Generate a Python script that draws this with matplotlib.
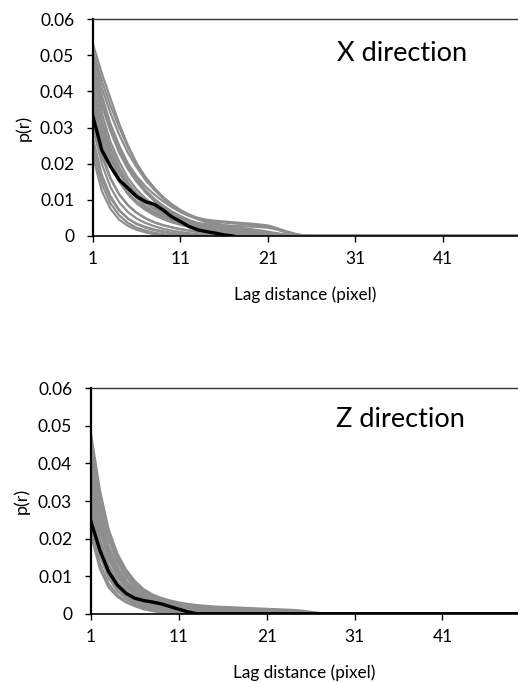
"""
p(r) vs lag distance, X and Z direction
"""
import numpy as np
import matplotlib
matplotlib.use("Agg")
import matplotlib.pyplot as plt

plt.rcParams['font.family'] = ['Lato', 'DejaVu Sans']

N_LAGS = 50
lags = np.arange(1, N_LAGS + 1)

# gray realisations, X direction (values from lag 1, zero afterwards)
x_real = [
    [0.053, 0.045, 0.038, 0.031, 0.025, 0.020, 0.016, 0.013, 0.0105, 0.0086, 0.0070, 0.0058, 0.0050, 0.0045, 0.0042, 0.0040, 0.0038, 0.0036, 0.0034, 0.0032, 0.0029, 0.0022, 0.0014, 0.0007, 0.0002, 0],
    [0.051, 0.043, 0.036, 0.030, 0.0245, 0.020, 0.0163, 0.0133, 0.0108, 0.0088, 0.0072, 0.0059, 0.0049, 0.0041, 0.0035, 0.0030, 0.0026, 0.0022, 0.0018, 0.0014, 0.0010, 0.0006, 0.0003, 0.0001, 0],
    [0.050, 0.041, 0.034, 0.028, 0.023, 0.019, 0.0155, 0.0128, 0.0105, 0.0086, 0.0070, 0.0057, 0.0046, 0.0037, 0.0030, 0.0025, 0.0021, 0.0018, 0.0015, 0.0012, 0.0009, 0.0006, 0.0003, 0.0001, 0],
    [0.048, 0.039, 0.031, 0.025, 0.020, 0.0165, 0.0137, 0.0115, 0.0096, 0.0080, 0.0066, 0.0055, 0.0047, 0.0042, 0.0039, 0.0037, 0.0035, 0.0033, 0.0031, 0.0029, 0.0026, 0.0019, 0.0011, 0.0005, 0.0001, 0],
    [0.047, 0.037, 0.0295, 0.0235, 0.0188, 0.0151, 0.0121, 0.0097, 0.0078, 0.0063, 0.0051, 0.0042, 0.0035, 0.0030, 0.0027, 0.0025, 0.0023, 0.0021, 0.0019, 0.0016, 0.0012, 0.0008, 0.0004, 0.0001, 0],
    [0.046, 0.036, 0.029, 0.023, 0.0185, 0.015, 0.0123, 0.0100, 0.0082, 0.0067, 0.0054, 0.0043, 0.0034, 0.0027, 0.0021, 0.0016, 0.0012, 0.0008, 0.0005, 0.0003, 0.0001, 0],
    [0.045, 0.037, 0.030, 0.024, 0.0195, 0.0157, 0.0127, 0.0103, 0.0084, 0.0068, 0.0055, 0.0044, 0.0036, 0.0030, 0.0025, 0.0021, 0.0018, 0.0015, 0.0012, 0.0009, 0.0006, 0.0003, 0.0001, 0],
    [0.044, 0.034, 0.026, 0.0205, 0.016, 0.0128, 0.0104, 0.0085, 0.0070, 0.0058, 0.0048, 0.0040, 0.0034, 0.0029, 0.0025, 0.0022, 0.0019, 0.0016, 0.0013, 0.0010, 0.0007, 0.0004, 0.0002, 0],
    [0.042, 0.031, 0.023, 0.0175, 0.0135, 0.0105, 0.0083, 0.0067, 0.0055, 0.0046, 0.0038, 0.0031, 0.0025, 0.0020, 0.0016, 0.0012, 0.0009, 0.0006, 0.0004, 0.0002, 0],
    [0.041, 0.032, 0.0245, 0.019, 0.0148, 0.0116, 0.0092, 0.0074, 0.0060, 0.0049, 0.0040, 0.0033, 0.0027, 0.0022, 0.0018, 0.0014, 0.0010, 0.0007, 0.0004, 0.0002, 0],
    [0.040, 0.030, 0.023, 0.018, 0.0145, 0.0118, 0.0097, 0.0080, 0.0066, 0.0055, 0.0045, 0.0037, 0.0030, 0.0024, 0.0019, 0.0015, 0.0011, 0.0008, 0.0005, 0.0003, 0.0001, 0],
    [0.039, 0.029, 0.0215, 0.016, 0.0122, 0.0094, 0.0074, 0.0059, 0.0048, 0.0039, 0.0032, 0.0026, 0.0021, 0.0017, 0.0013, 0.0010, 0.0007, 0.0004, 0.0002, 0],
    [0.038, 0.027, 0.020, 0.015, 0.0115, 0.0090, 0.0072, 0.0058, 0.0047, 0.0038, 0.0031, 0.0025, 0.0020, 0.0016, 0.0012, 0.0009, 0.0006, 0.0004, 0.0002, 0],
    [0.036, 0.026, 0.0195, 0.0150, 0.0118, 0.0095, 0.0078, 0.0065, 0.0054, 0.0045, 0.0037, 0.0031, 0.0026, 0.0022, 0.0019, 0.0017, 0.0015, 0.0013, 0.0011, 0.0008, 0.0005, 0.0003, 0.0001, 0],
    [0.035, 0.028, 0.022, 0.0175, 0.014, 0.0113, 0.0092, 0.0076, 0.0063, 0.0053, 0.0045, 0.0039, 0.0035, 0.0032, 0.0030, 0.0029, 0.0028, 0.0027, 0.0026, 0.0025, 0.0023, 0.0018, 0.0011, 0.0005, 0.0001, 0],
    [0.033, 0.023, 0.016, 0.0115, 0.0085, 0.0064, 0.0049, 0.0038, 0.0030, 0.0024, 0.0019, 0.0015, 0.0011, 0.0008, 0.0005, 0.0003, 0.0001, 0],
    [0.031, 0.022, 0.0158, 0.0115, 0.0085, 0.0064, 0.0049, 0.0038, 0.0030, 0.0024, 0.0019, 0.0015, 0.0012, 0.0009, 0.0006, 0.0004, 0.0002, 0],
    [0.030, 0.020, 0.0135, 0.0093, 0.0066, 0.0048, 0.0036, 0.0027, 0.0020, 0.0015, 0.0011, 0.0008, 0.0005, 0.0003, 0.0001, 0],
    [0.027, 0.017, 0.011, 0.0072, 0.0048, 0.0033, 0.0023, 0.0016, 0.0011, 0.0007, 0.0004, 0.0002, 0],
    [0.025, 0.016, 0.0105, 0.0070, 0.0048, 0.0034, 0.0025, 0.0018, 0.0013, 0.0009, 0.0006, 0.0004, 0.0002, 0],
    [0.024, 0.0145, 0.0090, 0.0057, 0.0036, 0.0023, 0.0015, 0.0009, 0.0005, 0.0002, 0],
    [0.022, 0.0125, 0.0075, 0.0045, 0.0028, 0.0017, 0.0010, 0.0005, 0.0002, 0],
]
# black curve, X direction
x_mean = [0.033, 0.0238, 0.0192, 0.0155, 0.0132, 0.0109, 0.0095, 0.0088, 0.0072, 0.0053,
          0.0040, 0.0026, 0.0017, 0.0012, 0.0008, 0.0003, 0]

# gray realisations, Z direction
z_real = [
    [0.048, 0.033, 0.0225, 0.016, 0.0117, 0.0087, 0.0065, 0.0051, 0.0042, 0.0035, 0.0030, 0.0026, 0.0023, 0.0021, 0.0019, 0.0018, 0.0017, 0.0016, 0.0015, 0.0014, 0.0013, 0.0012, 0.0011, 0.0010, 0.0008, 0.0005, 0.0002, 0],
    [0.046, 0.032, 0.0215, 0.0152, 0.0110, 0.0082, 0.0062, 0.0049, 0.0040, 0.0033, 0.0028, 0.0024, 0.0021, 0.0019, 0.0017, 0.0016, 0.0015, 0.0014, 0.0013, 0.0012, 0.0011, 0.0010, 0.0009, 0.0007, 0.0005, 0.0003, 0.0001, 0],
    [0.045, 0.031, 0.021, 0.0148, 0.0107, 0.0079, 0.0060, 0.0047, 0.0038, 0.0032, 0.0027, 0.0023, 0.0020, 0.0018, 0.0016, 0.0015, 0.0014, 0.0013, 0.0012, 0.0011, 0.0010, 0.0009, 0.0008, 0.0006, 0.0004, 0.0002, 0],
    [0.044, 0.030, 0.020, 0.0138, 0.0098, 0.0071, 0.0053, 0.0041, 0.0033, 0.0027, 0.0022, 0.0018, 0.0015, 0.0013, 0.0011, 0.0010, 0.0009, 0.0008, 0.0007, 0.0006, 0.0005, 0.0004, 0.0003, 0.0002, 0.0001, 0],
    [0.042, 0.029, 0.020, 0.0140, 0.0100, 0.0073, 0.0055, 0.0042, 0.0034, 0.0028, 0.0023, 0.0019, 0.0016, 0.0014, 0.0012, 0.0011, 0.0010, 0.0009, 0.0008, 0.0007, 0.0006, 0.0005, 0.0003, 0.0001, 0],
    [0.040, 0.027, 0.018, 0.0125, 0.0088, 0.0064, 0.0048, 0.0037, 0.0030, 0.0025, 0.0021, 0.0018, 0.0015, 0.0013, 0.0011, 0.0009, 0.0008, 0.0007, 0.0006, 0.0005, 0.0004, 0.0002, 0.0001, 0],
    [0.039, 0.026, 0.0175, 0.0120, 0.0084, 0.0061, 0.0046, 0.0036, 0.0029, 0.0024, 0.0020, 0.0017, 0.0014, 0.0012, 0.0010, 0.0009, 0.0008, 0.0007, 0.0006, 0.0005, 0.0004, 0.0003, 0.0002, 0.0001, 0],
    [0.038, 0.025, 0.0165, 0.0112, 0.0078, 0.0056, 0.0042, 0.0033, 0.0027, 0.0022, 0.0018, 0.0015, 0.0012, 0.0010, 0.0008, 0.0006, 0.0005, 0.0004, 0.0003, 0.0002, 0.0001, 0],
    [0.036, 0.024, 0.0160, 0.0110, 0.0078, 0.0058, 0.0045, 0.0036, 0.0030, 0.0025, 0.0021, 0.0018, 0.0016, 0.0014, 0.0012, 0.0011, 0.0010, 0.0009, 0.0008, 0.0007, 0.0006, 0.0005, 0.0004, 0.0003, 0.0002, 0.0001, 0],
    [0.035, 0.023, 0.0150, 0.0102, 0.0072, 0.0052, 0.0040, 0.0032, 0.0026, 0.0021, 0.0017, 0.0014, 0.0011, 0.0009, 0.0007, 0.0005, 0.0004, 0.0003, 0.0002, 0.0001, 0],
    [0.034, 0.022, 0.0145, 0.0098, 0.0068, 0.0049, 0.0037, 0.0029, 0.0023, 0.0018, 0.0014, 0.0011, 0.0009, 0.0007, 0.0005, 0.0004, 0.0003, 0.0002, 0.0001, 0],
    [0.032, 0.020, 0.0130, 0.0087, 0.0060, 0.0043, 0.0032, 0.0025, 0.0020, 0.0016, 0.0012, 0.0009, 0.0007, 0.0005, 0.0003, 0.0002, 0.0001, 0],
    [0.030, 0.0185, 0.0118, 0.0078, 0.0053, 0.0037, 0.0027, 0.0020, 0.0015, 0.0011, 0.0008, 0.0006, 0.0004, 0.0002, 0.0001, 0],
    [0.029, 0.018, 0.0113, 0.0074, 0.0050, 0.0035, 0.0025, 0.0018, 0.0013, 0.0009, 0.0006, 0.0004, 0.0002, 0.0001, 0],
    [0.028, 0.017, 0.0105, 0.0068, 0.0045, 0.0031, 0.0022, 0.0016, 0.0011, 0.0008, 0.0005, 0.0003, 0.0002, 0.0001, 0],
    [0.026, 0.0155, 0.0095, 0.0060, 0.0039, 0.0026, 0.0018, 0.0012, 0.0008, 0.0005, 0.0003, 0.0001, 0],
    [0.023, 0.0135, 0.0080, 0.0050, 0.0032, 0.0021, 0.0014, 0.0009, 0.0005, 0.0003, 0.0001, 0],
    [0.021, 0.012, 0.0070, 0.0045, 0.0030, 0.0020, 0.0012, 0.0007, 0.0003, 0.0001, 0],
]
# black curve, Z direction (runs along zero to the end)
z_mean = [0.0245, 0.017, 0.0112, 0.0076, 0.0054, 0.0041, 0.0035, 0.0031, 0.0026, 0.0019,
          0.0012, 0.0005, 0]

x_ticks = [1, 11, 21, 31, 41]
y_ticks = [0, 0.01, 0.02, 0.03, 0.04, 0.05, 0.06]
y_labels = ["0", "0.01", "0.02", "0.03", "0.04", "0.05", "0.06"]

GRAY = '#8e8e8e'


def pad(vals, n=N_LAGS):
    v = list(vals)
    return np.array(v + [0.0] * (n - len(v)))


def draw_panel(ax, reals, mean, mean_full, title, tx, ty):
    for r in reals:
        ax.plot(lags, pad(r), color=GRAY, lw=1.6, solid_joinstyle='round')
    if mean_full:
        ax.plot(lags, pad(mean), color='black', lw=2.4)
    else:
        ax.plot(lags[:len(mean)], mean, color='black', lw=2.4)

    ax.set_xlim(1, 49.6)
    ax.set_ylim(0, 0.06)
    ax.set_xticks(x_ticks)
    ax.set_yticks(y_ticks)
    ax.set_yticklabels(y_labels)
    ax.tick_params(axis='both', direction='out', length=4, width=1,
                   labelsize=12.5, colors='black')
    ax.tick_params(axis='x', pad=7)
    ax.tick_params(axis='y', pad=9.5)
    ax.spines['right'].set_visible(False)
    ax.spines['left'].set_linewidth(1.6)
    ax.spines['top'].set_linewidth(1.0)
    ax.spines['top'].set_color('#333333')
    ax.spines['bottom'].set_linewidth(1.2)
    ax.set_ylabel("p(r)", fontsize=13, labelpad=6)
    ax.set_xlabel("Lag distance (pixel)", fontsize=12.3, labelpad=14)
    ax.text(tx, ty, title, transform=ax.transAxes, fontsize=19.5,
            ha='center', va='center')


def main():
    fig = plt.figure(figsize=(5.18, 6.82), dpi=100)

    ax1 = fig.add_axes([93 / 518, 446 / 682, 425 / 518, 217 / 682])
    draw_panel(ax1, x_real, x_mean, False, "X direction", 0.727, 0.84)

    ax2 = fig.add_axes([91 / 518, 68.3 / 682, 427 / 518, 225.4 / 682])
    draw_panel(ax2, z_real, z_mean, True, "Z direction", 0.724, 0.86)

    fig.savefig('out.png', dpi=100)
    # plt.show()


if __name__ == '__main__':
    main()
